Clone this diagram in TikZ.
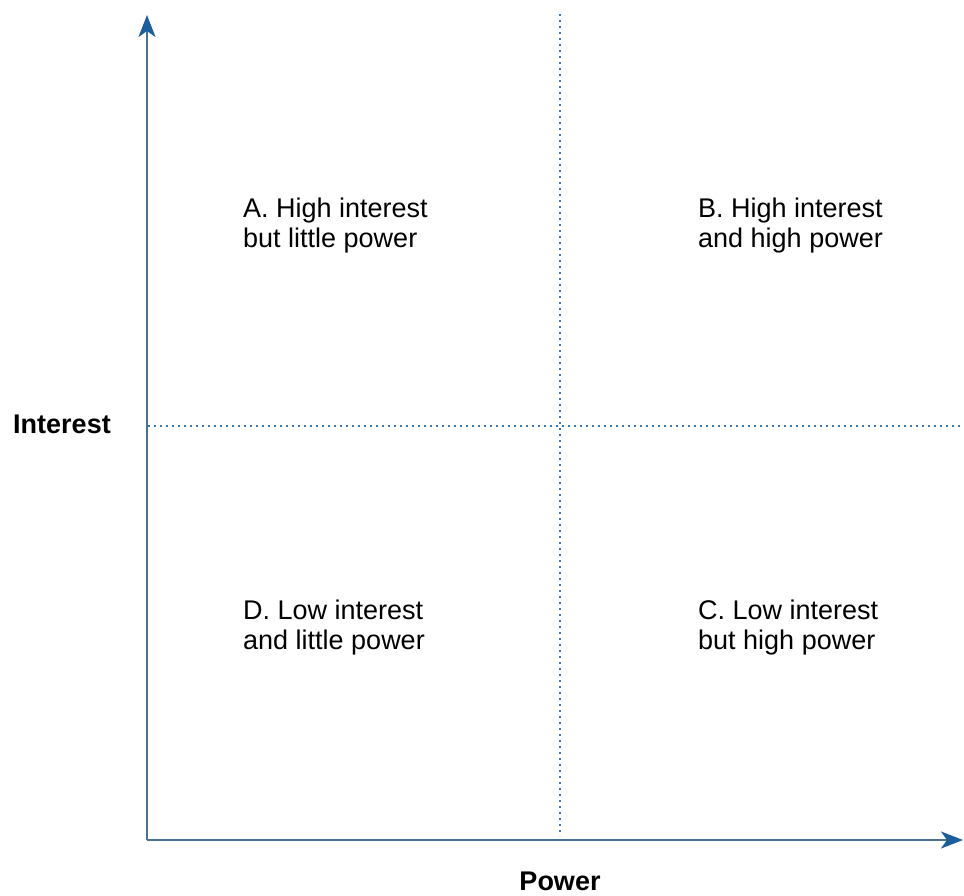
\documentclass[tikz,border=0pt]{standalone}
\usepackage{fontspec}
\setmainfont{Liberation Sans}
\usetikzlibrary{arrows.meta}
\definecolor{axisline}{HTML}{4A7092}
\definecolor{axistip}{HTML}{1B5E9E}
\definecolor{dotblue}{HTML}{3A78B0}
\begin{document}
\begin{tikzpicture}[x=1pt,y=-1pt,
  axis/.style={draw=axisline,line width=2pt,-{Stealth[length=22pt,width=17pt,inset=6pt,color=axistip]}},
  guide/.style={draw=dotblue,line width=1.6pt,dash pattern=on 1.6pt off 4.4pt},
  quad/.style={font=\fontsize{27}{30}\selectfont,align=left,anchor=base west,inner sep=0pt},
  axlabel/.style={font=\fontsize{27}{30}\selectfont\bfseries,anchor=base,inner sep=0pt}]
\useasboundingbox (0,0) rectangle (964,895);
\coordinate (origin) at (147,840);
\coordinate (ytip) at (147,15);
\coordinate (xtip) at (963,840);
\coordinate (vtop) at (560,14);
\coordinate (vbot) at (560,836);
\coordinate (hleft) at (148,426);
\coordinate (hright) at (964,426);
\draw[guide] (vtop) -- (vbot);
\draw[guide] (hleft) -- (hright);
\draw[axis] (origin) -- (ytip);
\draw[axis] (origin) -- (xtip);
\node[quad] (qa) at (243,247) {A. High interest\\but little power};
\node[quad] (qb) at (698,247) {B. High interest\\and high power};
\node[quad] (qd) at (243,649) {D. Low interest\\and little power};
\node[quad] (qc) at (698,649) {C. Low interest\\but high power};
\node[axlabel] (interest) at (62,433) {Interest};
\node[axlabel] (power) at (560,890) {Power};
\end{tikzpicture}
\end{document}
